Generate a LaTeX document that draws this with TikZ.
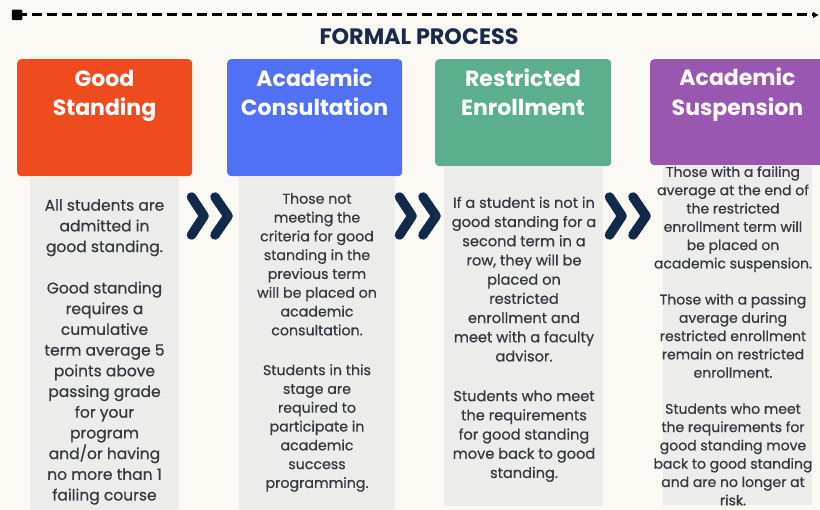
\documentclass[tikz,border=0pt]{standalone}
\usepackage{fontspec}
\setmainfont{Poppins}
\newfontfamily\bodyfont[FakeBold=0.6]{Poppins}
\usetikzlibrary{arrows.meta}
\definecolor{bgc}{HTML}{FBF9F4}
\definecolor{colgray}{HTML}{ECECEB}
\definecolor{navy}{HTML}{12294A}
\definecolor{titlec}{HTML}{1B2A48}
\definecolor{bodyc}{HTML}{34383F}
\definecolor{c1}{HTML}{EE4B1F}
\definecolor{c2}{HTML}{5070F5}
\definecolor{c3}{HTML}{5CAF8D}
\definecolor{c4}{HTML}{9A57B1}
\tikzset{
  headbox/.style={rounded corners=4pt, inner sep=0pt, anchor=north west},
  headtitle/.style={text=white, font=\fontsize{22}{29.5}\selectfont\bfseries, align=center, inner sep=0pt, anchor=north},
  colbox/.style={fill=colgray, inner sep=0pt, anchor=north west, minimum height=340pt},
  bodytxt/.style={text=bodyc, align=center, inner sep=0pt, anchor=north},
  chevline/.style={draw=navy, line width=9.5pt, line cap=round, line join=round},
  dchev/.pic={
    \draw[chevline] (-12.5,-19) -- (0,0) -- (-12.5,19);
    \draw[chevline] (11,-19) -- (24,0) -- (11,19);
  }
}
\begin{document}
\begin{tikzpicture}[x=1pt,y=-1pt]
\useasboundingbox (0,0) rectangle (820,510);
\fill[bgc] (0,0) rectangle (820,510);

% timeline
\coordinate (ls) at (17,15);
\coordinate (le) at (819,15);
\draw[line width=3pt, dash pattern=on 10pt off 5pt, -{Latex[length=6pt,width=7pt]}] (ls) -- (le);
\node[fill=black, minimum size=10.5pt, inner sep=0pt, rounded corners=1pt] (sq) at (ls) {};

\node[text=titlec, font=\fontsize{22.3}{26}\selectfont\bfseries, anchor=base] (ttl) at (419,45) {FORMAL PROCESS};

% header boxes
\node[headbox, fill=c1, minimum width=175pt, minimum height=117pt] (b1) at (17,59) {};
\node[headbox, fill=c2, minimum width=175pt, minimum height=117pt] (b2) at (227,59) {};
\node[headbox, fill=c3, minimum width=176pt, minimum height=107pt] (b3) at (435,59) {};
\node[headbox, fill=c4, minimum width=176pt, minimum height=106pt] (b4) at (650,59) {};

\node[headtitle] (t1) at (104.5,64) {\rule{0pt}{22pt}Good\\Standing};
\node[headtitle] (t2) at (314.5,64) {\rule{0pt}{22pt}Academic\\Consultation};
\node[headtitle] (t3) at (523,64) {\rule{0pt}{22pt}Restricted\\Enrollment};
\node[headtitle] (t4) at (737.5,63.5) {\rule{0pt}{22pt}Academic\\Suspension};

% gray columns
\node[colbox, minimum width=149pt] (g1) at (30,176) {};
\node[colbox, minimum width=156pt] (g2) at (239,176) {};
\node[colbox, minimum width=159pt] (g3) at (444,166) {};
\node[colbox, minimum width=149pt] (g4) at (663,165) {};

% body texts
\node[bodytxt, font=\bodyfont\fontsize{15.5}{20.7}\selectfont] (p1) at (104.5,199) {All students are\\admitted in\\good standing.\\[20.7pt]Good standing\\requires a\\cumulative\\term average 5\\points above\\passing grade\\for your\\program\\and/or having\\no more than 1\\failing course};

\node[bodytxt, font=\bodyfont\fontsize{14.2}{18.8}\selectfont] (p2) at (317,193) {Those not\\meeting the\\criteria for good\\standing in the\\previous term\\will be placed on\\academic\\consultation.\\[21pt]Students in this\\stage are\\required to\\participate in\\academic\\success\\programming.};

\node[bodytxt, font=\bodyfont\fontsize{14.6}{19.2}\selectfont] (p3) at (524,196.5) {If a student is not in\\good standing for a\\second term in a\\row, they will be\\placed on\\restricted\\enrollment and\\meet with a faculty\\advisor.\\[20.5pt]Students who meet\\the requirements\\for good standing\\move back to good\\standing.};

\node[bodytxt, font=\bodyfont\fontsize{14}{18.3}\selectfont] (p4) at (733,166) {Those with a failing\\average at the end of\\the restricted\\enrollment term will\\be placed on\\academic suspension.\\[17.8pt]Those with a passing\\average during\\restricted enrollment\\remain on restricted\\enrollment.\\[17.8pt]Students who meet\\the requirements for\\good standing move\\back to good standing\\and are no longer at\\risk.};

% chevrons between stages
\pic at (204,216) {dchev};
\pic at (412,216) {dchev};
\pic at (622,216) {dchev};
\end{tikzpicture}
\end{document}
